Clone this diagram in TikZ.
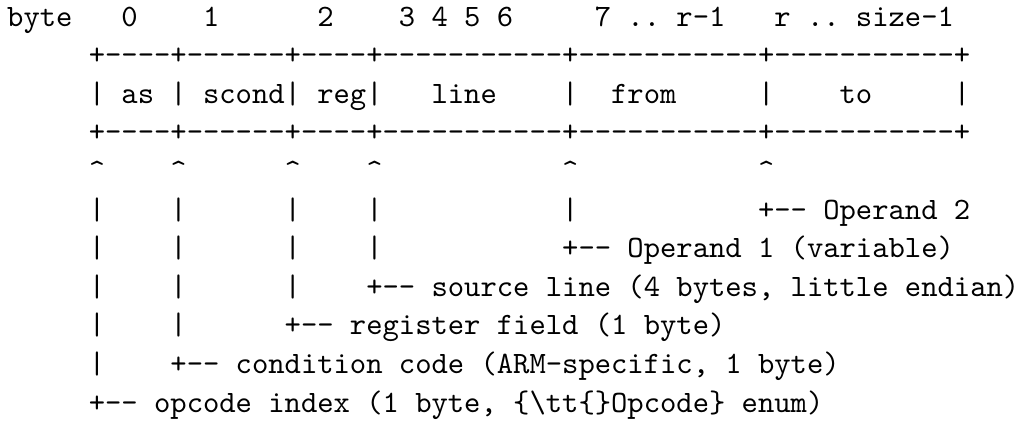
\documentclass[tikz,border=0pt]{standalone}
\usepackage{fontspec}
\newcommand\ascfont{\ttfamily\fontsize{10.95pt}{13.6pt}\selectfont\frenchspacing}
\tikzset{
  asc/.style={anchor=base west, inner sep=0pt, outer sep=0pt, font=\ascfont}
}
% #1 name, #2 column, #3 row, #4 text
\newcommand\tx[4]{\node[asc] (#1) at ({#2*5.74875pt},{-#3*13.6pt}) {#4};}
\begin{document}
\begin{tikzpicture}
\useasboundingbox (-2.54pt,9.16pt) rectangle (357.76pt,-139.14pt);
% row 0: byte offsets
\tx{hbyte}{0}{0}{byte}
\tx{h0}{7}{0}{0}
\tx{h1}{12}{0}{1}
\tx{h2}{19}{0}{2}
\tx{h3}{24}{0}{3 4 5 6}
\tx{h7}{36}{0}{7 .. r-1}
\tx{hr}{47}{0}{r .. size-1}
% rows 1 and 3: borders
\tx{top}{5}{1}{+----+------+----+-----------+-----------+-----------+}
\tx{bot}{5}{3}{+----+------+----+-----------+-----------+-----------+}
% row 2: fields
\tx{f0}{5}{2}{|}
\tx{fas}{7}{2}{as}
\tx{f1}{10}{2}{|}
\tx{fscond}{12}{2}{scond|}
\tx{freg}{19}{2}{reg|}
\tx{fline}{26}{2}{line}
\tx{f4}{34}{2}{|}
\tx{ffrom}{37}{2}{from}
\tx{f5}{46}{2}{|}
\tx{fto}{51}{2}{to}
\tx{f6}{58}{2}{|}
% row 4: carets
\foreach \c in {5,10,17,22,34,46} {\tx{caret\c}{\c}{4}{\textasciicircum}}
% row 5
\foreach \c in {5,10,17,22,34} {\tx{v5c\c}{\c}{5}{|}}
\tx{op2}{46}{5}{+-- Operand 2}
% row 6
\foreach \c in {5,10,17,22} {\tx{v6c\c}{\c}{6}{|}}
\tx{op1}{34}{6}{+-- Operand 1 (variable)}
% row 7
\foreach \c in {5,10,17} {\tx{v7c\c}{\c}{7}{|}}
\tx{src}{22}{7}{+-- source line (4 bytes, little endian)}
% row 8
\foreach \c in {5,10} {\tx{v8c\c}{\c}{8}{|}}
\tx{regf}{17}{8}{+-- register field (1 byte)}
% row 9
\tx{v9c5}{5}{9}{|}
\tx{cond}{10}{9}{+-- condition code (ARM-specific, 1 byte)}
% row 10
\tx{opc}{5}{10}{+-- opcode index (1 byte, \{\textbackslash tt\{\}Opcode\} enum)}
\end{tikzpicture}
\end{document}
